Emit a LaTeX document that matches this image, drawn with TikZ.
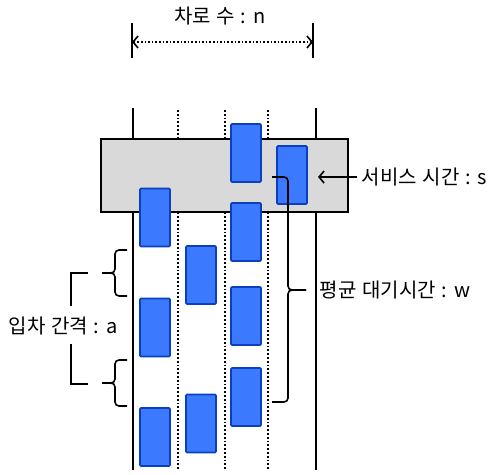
\documentclass[tikz,border=0pt]{standalone}
\usepackage{fontspec}
\setmainfont[WordSpace=1.25]{Noto Sans CJK KR}
\usetikzlibrary{arrows.meta}
\definecolor{carblue}{RGB}{59,122,255}
\definecolor{carline}{RGB}{10,64,190}
\definecolor{gategray}{RGB}{217,217,217}

\begin{document}
\begin{tikzpicture}[x=1pt,y=-1pt,line width=1.6pt,
    barb/.style={-{Straight Barb[length=5pt,width=12pt]}},
    curly/.style={rounded corners=4pt},
    lbl/.style={font=\fontsize{20}{22}\selectfont,inner sep=0pt}]
\useasboundingbox (0,0) rectangle (492,474);

\begin{scope}[line width=1.8pt]
    \draw (133,108) -- (133,470);
    \draw (316,108) -- (316,470);
\end{scope}

\begin{scope}[dotted,line width=1.8pt]
    \draw (178,110) -- (178,470);
    \draw (225,110) -- (225,470);
    \draw (268,110) -- (268,470);
\end{scope}

\node[draw,fill=gategray,line width=1.8pt,inner sep=0pt,minimum width=247,minimum height=73] (gate) at (224.5,175.5) {};

\begin{scope}[every node/.style={draw=carline,fill=carblue,line width=1.6pt,rounded corners=1pt,inner sep=0pt,minimum width=30,minimum height=58}]
    \node (c1) at (246,153) {};
    \node (c2) at (292,175) {};
    \node (c3) at (155,217.5) {};
    \node (c4) at (246,232) {};
    \node (c5) at (201,275) {};
    \node (c6) at (155,327.5) {};
    \node (c7) at (246,316) {};
    \node (c8) at (246,397) {};
    \node (c9) at (201,423.5) {};
    \node (c10) at (155,437) {};
\end{scope}

\node[lbl] (lanes) at (220,16) {차로 수 : n};
\coordinate (dl) at (132,42);
\coordinate (dr) at (313,42);
\draw (132,23) -- (132,58);
\draw (313,23) -- (313,58);
\draw[dotted,{Straight Barb[length=5pt,width=12pt]}-{Straight Barb[length=5pt,width=12pt]}] (dl) -- (dr);

\node[lbl,anchor=west] (svc) at (361,177) {서비스 시간 : s};
\coordinate (st) at (318,177);
\draw[barb] (svc.west) ++(-4,0) -- (st);

\node[lbl,anchor=west] (wait) at (319,290) {평균 대기시간 : w};
\coordinate (wtop) at (272,177);
\coordinate (wbot) at (272,402);
\coordinate (wtip) at (306,290);
\draw[curly] (wtop) -- (288,177) -- (288,290) -- (wtip);
\draw[curly] (wbot) -- (288,402) -- (288,290) -- (wtip);

\node[lbl] (gap) at (63,326) {입차 간격 : a};
\coordinate (a1) at (127,250);
\coordinate (a2) at (127,296);
\coordinate (a3) at (127,360);
\coordinate (a4) at (127,406);
\coordinate (t1) at (102,273);
\coordinate (t2) at (102,383);
\draw[curly] (a1) -- (115,250) -- (115,273) -- (t1);
\draw[curly] (a2) -- (115,296) -- (115,273) -- (t1);
\draw[curly] (a3) -- (115,360) -- (115,383) -- (t2);
\draw[curly] (a4) -- (115,406) -- (115,383) -- (t2);
\coordinate (g1) at (88,273);
\coordinate (g2) at (88,384);
\draw (g1) -- (71,273) -- (71,306);
\draw (71,344) -- (71,384) -- (g2);

\end{tikzpicture}
\end{document}
